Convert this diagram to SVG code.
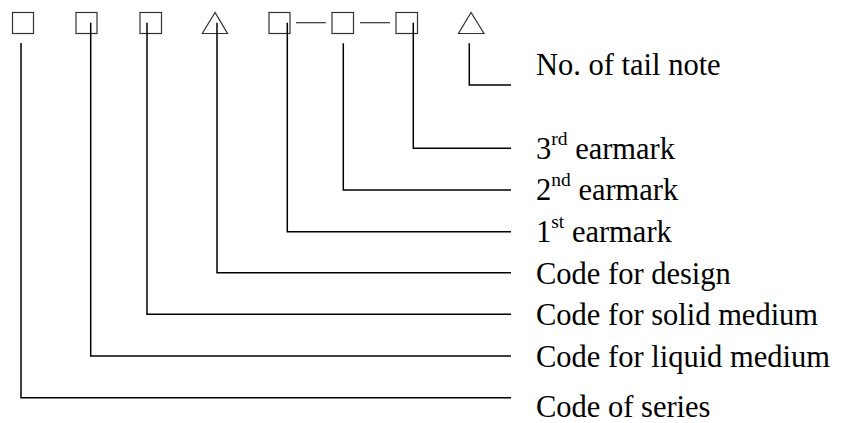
<svg xmlns="http://www.w3.org/2000/svg" width="845" height="423" viewBox="0 0 845 423">
<style>
.box{fill:none;stroke:#333;stroke-width:1.2}
.con{fill:none;stroke:#000;stroke-width:1.5}
text{font-family:'Liberation Serif','Times New Roman',Times,'DejaVu Serif',serif;font-size:30.5px;fill:#000}
.sup{font-size:19.5px}
</style>
<rect width="845" height="423" fill="#fff"/>
<g id="n1"><rect class="box" x="12.5" y="12.5" width="21" height="21"/></g>
<g id="n2"><rect class="box" x="76" y="12.5" width="21" height="21"/></g>
<g id="n3"><rect class="box" x="140" y="12.5" width="21.5" height="21"/></g>
<g id="n4"><polygon class="box" points="215,12.5 202.3,33.5 227.5,33.5"/></g>
<g id="n5"><rect class="box" x="269" y="12.5" width="21" height="21"/></g>
<g id="n6"><rect class="box" x="332" y="12.5" width="21.5" height="21"/></g>
<g id="n7"><rect class="box" x="396" y="12.5" width="21.5" height="21"/></g>
<g id="n8"><polygon class="box" points="471,12.5 458.5,33.5 484,33.5"/></g>
<g id="connectors">
<line class="box" x1="296" y1="22.7" x2="325.7" y2="22.7"/>
<line class="box" x1="360" y1="22.7" x2="390" y2="22.7"/>
<polyline class="con" points="21,43 21,397.7 511,397.7"/>
<polyline class="con" points="90.7,22.7 90.7,356 511,356"/>
<polyline class="con" points="147,22.7 147,314.3 511,314.3"/>
<polyline class="con" points="217,22.7 217,272.7 511,272.7"/>
<polyline class="con" points="287.3,22.7 287.3,231.7 511,231.7"/>
<polyline class="con" points="343.3,43.3 343.3,190 511,190"/>
<polyline class="con" points="413.3,22.7 413.3,148.3 511,148.3"/>
<polyline class="con" points="469.3,43.3 469.3,85 511,85"/>
</g>
<g id="labels">
<text x="536" y="75">No. of tail note</text>
<text x="536" y="158.5">3<tspan class="sup" dy="-14">rd</tspan><tspan dy="14"> earmark</tspan></text>
<text x="536" y="200">2<tspan class="sup" dy="-14">nd</tspan><tspan dy="14"> earmark</tspan></text>
<text x="536" y="242">1<tspan class="sup" dy="-14">st</tspan><tspan dy="14"> earmark</tspan></text>
<text x="536" y="283.5">Code for design</text>
<text x="536" y="325">Code for solid medium</text>
<text x="536" y="367">Code for liquid medium</text>
<text x="536" y="417">Code of series</text>
</g>
</svg>
